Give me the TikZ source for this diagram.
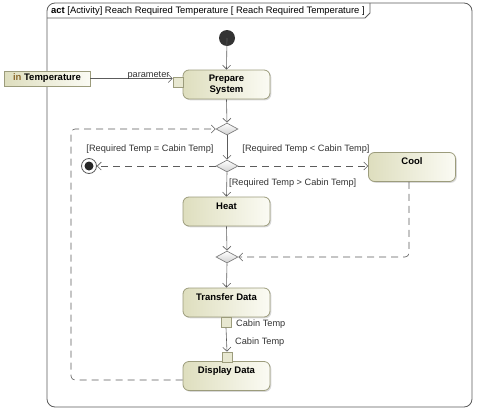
\documentclass[tikz,border=0pt]{standalone}
\usepackage{fontspec}
\setmainfont{Liberation Sans}
\usetikzlibrary{arrows.meta,shapes.geometric,shadows}

\definecolor{edge}{HTML}{5C5C5C}
\definecolor{actborder}{HTML}{9C9C7C}
\definecolor{actdark}{HTML}{DEDEBE}
\definecolor{actlight}{HTML}{FBFBF4}
\definecolor{inbrown}{HTML}{8C6A2E}

\tikzset{
	action/.style={rounded corners=6pt, draw=actborder, line width=0.8pt,
		left color=actdark, right color=actlight,
		minimum width=87pt, minimum height=29pt, inner sep=0pt, align=center,
		font=\fontsize{9.5}{11}\selectfont\bfseries,
		drop shadow={shadow xshift=1.3pt, shadow yshift=-1.3pt, opacity=0.3}},
	pinbox/.style={draw=actborder, line width=0.7pt, fill=actdark!70!white,
		minimum size=10pt, inner sep=0pt},
	choice/.style={diamond, draw=gray, line width=0.7pt, top color=white, bottom color=black!18,
		minimum width=22pt, minimum height=12pt, inner sep=0pt},
	flow/.style={draw=edge, line width=0.6pt, ->},
	guard/.style={draw=edge, line width=0.6pt, dash pattern=on 7pt off 5pt, ->},
	lbl/.style={font=\fontsize{9.2}{10}\selectfont, text=black!80, inner sep=0pt}
}

\begin{document}
\begin{tikzpicture}[x=1pt, y=-1pt, >={Straight Barb[length=4pt,width=8pt]}]
	\useasboundingbox (0,0) rectangle (477,410);

	% frame
	\draw[edge, line width=0.8pt, rounded corners=8pt] (47,3) rectangle (472,407);
	\draw[edge, line width=0.8pt] (47,18) -- (365,18) -- (370,13) -- (370,3);
	\node[lbl, anchor=west, font=\fontsize{9.4}{10}\selectfont, text=black] (title) at (51,11)
		{\textbf{act} [Activity] Reach Required Temperature [ Reach Required Temperature ]};

	% nodes
	\fill[black!80] (227,38) coordinate (init) circle (8);

	\node[draw=actborder, line width=0.8pt, left color=actdark, right color=actlight,
		minimum width=86pt, minimum height=15pt, inner sep=0pt,
		font=\fontsize{9.5}{11}\selectfont\bfseries,
		drop shadow={shadow xshift=1.3pt, shadow yshift=-1.3pt, opacity=0.3}]
		(temp) at (47,78.5) {\textcolor{inbrown}{in} Temperature};

	\node[action] (prep) at (226.5,84.5) {Prepare\\System};
	\node[pinbox] (ppin) at (178,82) {};

	\node[choice] (m1) at (227,129) {};
	\node[choice] (d1) at (227,166) {};
	\node[choice] (m2) at (227,257) {};

	\node[action] (cool) at (412,167) {Cool\\\phantom{H}};
	\node[action] (heat) at (226.5,211.5) {Heat\\\phantom{H}};
	\node[action] (xfer) at (226.5,302.5) {Transfer Data\\\phantom{H}};
	\node[action] (show) at (226.5,376) {Display Data\\\phantom{H}};

	\node[pinbox] (opin) at (226,322.5) {};
	\node[pinbox] (ipin) at (227,357) {};

	\node[circle, draw=edge, fill=white, line width=0.8pt, minimum size=15pt, inner sep=0pt] (final) at (89,166) {};
	\fill[black!85] (final.center) circle (4.5);

	% flows
	\draw[flow] (init) -- (prep.north);
	\draw[flow] (temp.east) -- (ppin.west |- temp.east);
	\draw[flow] (prep.south) -- (m1.north);
	\draw[flow] (m1.south) -- (d1.north);
	\draw[flow] (d1.south) -- (heat.north);
	\draw[flow] (heat.south) -- (m2.north);
	\draw[flow] (m2.south) -- (xfer.north);
	\draw[flow] (opin.south) -- (ipin.north);

	\draw[guard] (d1.west) -- (final.east);
	\draw[guard] (d1.east) -- (cool.west |- d1.east);
	\draw[guard, rounded corners=4pt] ([xshift=-3pt]cool.south) -- (409,257) -- (m2.east);
	\draw[guard, rounded corners=4pt] ([yshift=-4pt]show.west) -- (71,380) -- (71,129) -- (m1.west);

	% labels
	\node[lbl] (pl) at (148.5,75) {parameter};
	\node[lbl] (g1) at (150,149) {[Required Temp = Cabin Temp]};
	\node[lbl] (g2) at (306,149) {[Required Temp < Cabin Temp]};
	\node[lbl, anchor=west] (g3) at (229,183) {[Required Temp > Cabin Temp]};
	\node[lbl, anchor=west] (c1) at (236,324) {Cabin Temp};
	\node[lbl, anchor=west] (c2) at (235,342) {Cabin Temp};
\end{tikzpicture}
\end{document}
